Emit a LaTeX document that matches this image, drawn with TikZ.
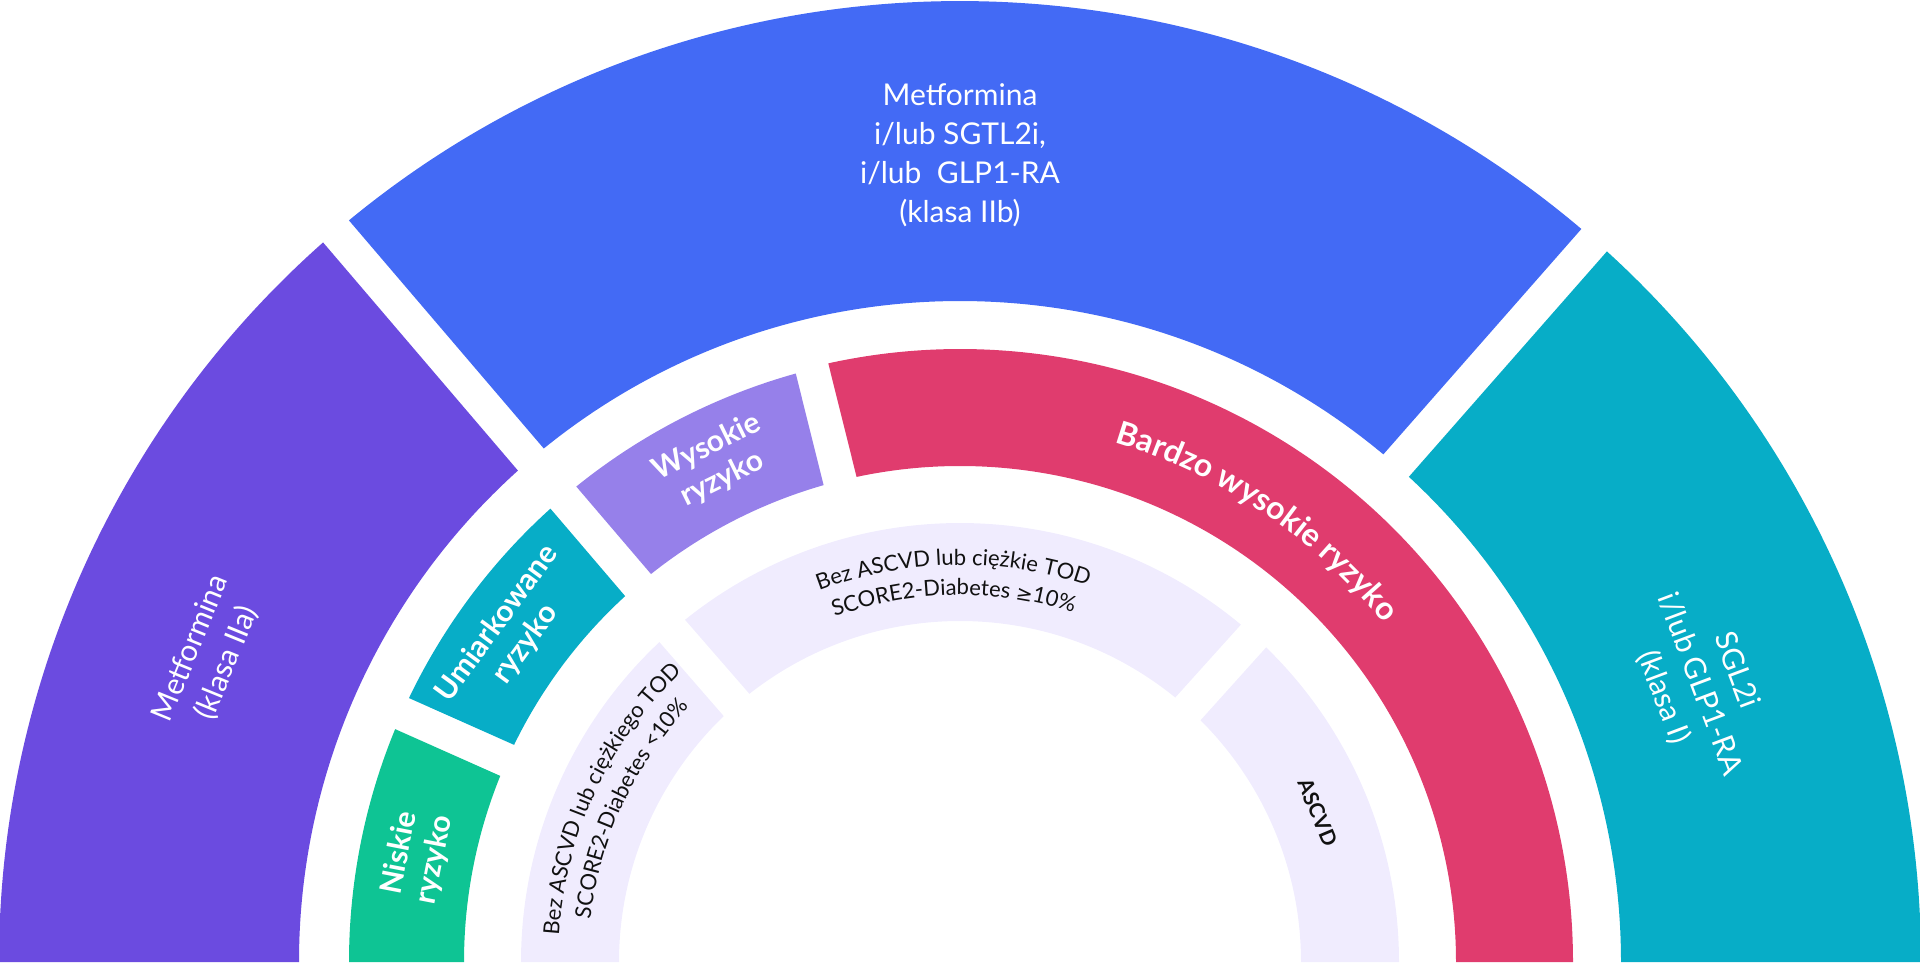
\documentclass[tikz,border=0pt]{standalone}
\usepackage{fontspec}
\setmainfont{Lato}
\newfontfamily\symfont{DejaVu Sans}
\usetikzlibrary{decorations.text}
\definecolor{cPurple}{HTML}{6B4BE0}
\definecolor{cBlue}{HTML}{436AF5}
\definecolor{cCyan}{HTML}{07ADC7}
\definecolor{cGreen}{HTML}{0EC494}
\definecolor{cLilac}{HTML}{9680EA}
\definecolor{cRed}{HTML}{E03C6E}
\definecolor{cLav}{HTML}{F0ECFE}
\definecolor{cInk}{HTML}{111111}
% #1 colour, #2 inner r, #3 outer r, #4 start angle, #5 end angle, #6 half gap at start, #7 half gap at end
\newcommand{\annsec}[7]{%
  \pgfmathsetmacro{\oA}{#4+asin(#6/#3)}%
  \pgfmathsetmacro{\oB}{#5-asin(#7/#3)}%
  \pgfmathsetmacro{\iA}{#4+asin(#6/#2)}%
  \pgfmathsetmacro{\iB}{#5-asin(#7/#2)}%
  \fill[#1] (\oA:#3pt) arc[start angle=\oA, end angle=\oB, radius=#3pt]
     -- (\iB:#2pt) arc[start angle=\iB, end angle=\iA, radius=#2pt] -- cycle;%
}
\newcommand{\lavfont}{\fontsize{22}{22}\selectfont}
\newcommand{\redfont}{\bfseries\fontsize{32}{32}\selectfont}
\tikzset{
  outtxt/.style={text=white, font=\fontsize{30}{39}\selectfont, align=center, inner sep=0pt},
  ringtxt/.style={text=white, font=\bfseries\fontsize{30}{35}\selectfont, align=center, inner sep=0pt},
  lavtxt/.style={text=cInk, font=\bfseries\fontsize{21}{21}\selectfont, inner sep=0pt},
  arctxt/.style={decorate, decoration={text along path, text align=center, text color=#1}},
}
\begin{document}
\begin{tikzpicture}[x=1pt,y=1pt]
\useasboundingbox (0,0) rectangle (1920,962);
\begin{scope}[shift={(960,0)}]
  % outer ring
  \annsec{cPurple}{661}{961}{130.5}{180}{17}{0}
  \annsec{cBlue}{661}{961}{48.7}{130.5}{17}{17}
  \annsec{cCyan}{661}{961}{0}{48.7}{0}{17}
  % risk ring
  \annsec{cGreen}{496}{611}{156}{180}{17}{0}
  \annsec{cCyan}{496}{611}{130.5}{156}{17}{17}
  \annsec{cLilac}{496}{611}{104}{130.5}{17}{17}
  \annsec{cRed}{496}{613}{0}{104}{0}{17}
  % criteria ring
  \annsec{cLav}{341}{439}{131}{180}{17}{0}
  \annsec{cLav}{341}{439}{48}{131}{17}{17}
  \annsec{cLav}{341}{439}{0}{48}{0}{17}

  % outer texts
  \node[outtxt] (tBlue) at (90:807) {Metformina\\i/lub SGTL2i,\\i/lub~ GLP1-RA\\(klasa IIb)};
  \node[outtxt, rotate=67.8] (tPurple) at (157.8:811) {Metformina\\(klasa IIa)};
  \node[outtxt, rotate=-69.4] (tCyan) at (20.6:790) {SGL2i\\i/lub GLP1-RA\\(klasa I)};

  % risk texts
  \node[ringtxt, rotate=79] (tLow) at (169:553) {Niskie\\ryzyko};
  \node[ringtxt, rotate=53.8] (tMod) at (143.8:556) {Umiarkowane\\ryzyko};
  \node[ringtxt, rotate=26.2] (tHigh) at (116.2:556) {Wysokie\\ryzyko};
  \path[arctxt=white, decoration={text={|\redfont|Bardzo wysokie ryzyko}}]
    (86:542pt) arc[start angle=86, end angle=26, radius=542pt];

  % criteria texts
  \path[arctxt=cInk, decoration={text={|\lavfont|Bez ASCVD lub ciężkie TOD}}]
    (131:397pt) arc[start angle=131, end angle=51, radius=397pt];
  \path[arctxt=cInk, decoration={text={|\lavfont|SCORE2-Diabetes |\symfont\fontsize{20}{20}\selectfont|≥|\lavfont|10{\%}}}]
    (131:367pt) arc[start angle=131, end angle=51, radius=367pt];
  \path[arctxt=cInk, decoration={text={|\lavfont|Bez ASCVD lub ciężkiego TOD}}]
    (179:402pt) arc[start angle=179, end angle=131, radius=402pt];
  \path[arctxt=cInk, decoration={text={|\lavfont|SCORE2-Diabetes <10{\%}}}]
    (179:372pt) arc[start angle=179, end angle=131, radius=372pt];
  \node[lavtxt, rotate=-67.3] (tAscvd) at (22.7:388) {ASCVD};
\end{scope}
\end{tikzpicture}
\end{document}
